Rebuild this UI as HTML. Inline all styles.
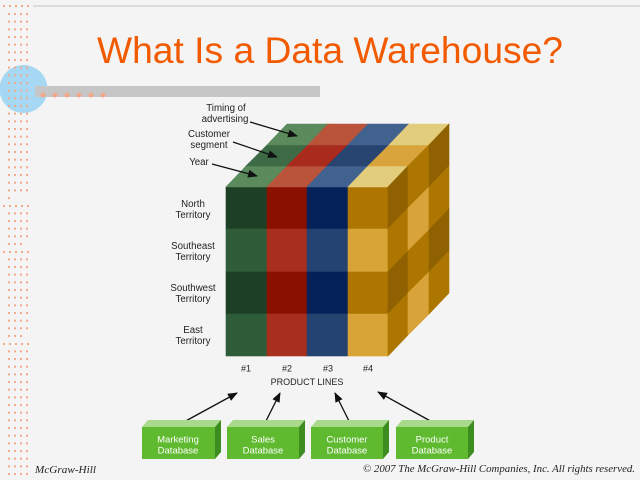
<!DOCTYPE html>
<html><head><meta charset="utf-8"><style>
html,body{margin:0;padding:0;background:#f4f4f4;}
svg{display:block;}
</style></head><body>
<svg width="640" height="480" viewBox="0 0 640 480" xmlns="http://www.w3.org/2000/svg">
<defs>
<pattern id="dots" x="8" y="13" width="6" height="7.667" patternUnits="userSpaceOnUse"><rect x="0" y="0" width="2" height="2" fill="#f2aa8a"/></pattern>
<marker id="ah" markerWidth="10" markerHeight="8" refX="9" refY="4" orient="auto" markerUnits="userSpaceOnUse"><path d="M0,0 L10,4 L0,8 Z" fill="#111"/></marker>
</defs>
<rect width="640" height="480" fill="#f4f4f4"/>
<!-- top line -->
<rect x="33" y="5.5" width="607" height="1" fill="#c4c4c4"/>
<!-- blue circle -->
<circle cx="23.5" cy="89" r="24" fill="#a6d8f4"/>
<!-- gray bar -->
<rect x="35" y="86" width="285" height="11" fill="#c6c6c6"/>
<g fill="#f0a888">
<circle cx="43" cy="95" r="2.5"/><circle cx="55" cy="95" r="2.5"/><circle cx="67" cy="95" r="2.5"/><circle cx="79" cy="95" r="2.5"/><circle cx="91" cy="95" r="2.5"/><circle cx="103" cy="95" r="2.5"/>
</g>
<!-- dot grid -->
<rect x="8" y="13" width="24" height="467" fill="url(#dots)"/>
<g fill="#f2aa8a">
<rect x="3" y="5" width="2" height="2"/><rect x="9" y="5" width="2" height="2"/><rect x="15" y="5" width="2" height="2"/><rect x="21" y="5" width="2" height="2"/><rect x="27" y="5" width="2" height="2"/>
</g>
<!-- anomalies -->
<rect x="13" y="196" width="18" height="4" fill="#f4f4f4"/>
<rect x="2" y="204" width="30" height="4" fill="#f4f4f4"/>
<rect x="25" y="243" width="6" height="4" fill="#f4f4f4"/>
<rect x="2" y="250" width="30" height="4" fill="#f4f4f4"/>
<rect x="25" y="335" width="6" height="4" fill="#f4f4f4"/>
<rect x="2" y="342" width="30" height="4" fill="#f4f4f4"/>
<g fill="#f2aa8a">
<rect x="3" y="205" width="2" height="2"/><rect x="9" y="205" width="2" height="2"/><rect x="15" y="205" width="2" height="2"/><rect x="21" y="205" width="2" height="2"/><rect x="27" y="205" width="2" height="2"/>
<rect x="3" y="251" width="2" height="2"/><rect x="9" y="251" width="2" height="2"/><rect x="15" y="251" width="2" height="2"/><rect x="21" y="251" width="2" height="2"/><rect x="27" y="251" width="2" height="2"/>
<rect x="3" y="343" width="2" height="2"/><rect x="9" y="343" width="2" height="2"/><rect x="15" y="343" width="2" height="2"/><rect x="21" y="343" width="2" height="2"/><rect x="27" y="343" width="2" height="2"/>
</g>

<!-- title -->
<text x="97" y="63" font-family="Liberation Sans, Arial, sans-serif" font-size="37" fill="#f25a00" textLength="466" lengthAdjust="spacingAndGlyphs">What Is a Data Warehouse?</text>

<!-- cube front face -->
<g stroke-width="0.6">
<rect x="226" y="187" width="41" height="42" fill="#1d3f25" stroke="#1d3f25"/>
<rect x="226" y="229" width="41" height="43" fill="#2f5c39" stroke="#2f5c39"/>
<rect x="226" y="272" width="41" height="42" fill="#1d3f25" stroke="#1d3f25"/>
<rect x="226" y="314" width="41" height="42" fill="#2f5c39" stroke="#2f5c39"/>
<rect x="267" y="187" width="40" height="42" fill="#8a1000" stroke="#8a1000"/>
<rect x="267" y="229" width="40" height="43" fill="#a82e1e" stroke="#a82e1e"/>
<rect x="267" y="272" width="40" height="42" fill="#8a1000" stroke="#8a1000"/>
<rect x="267" y="314" width="40" height="42" fill="#a82e1e" stroke="#a82e1e"/>
<rect x="307" y="187" width="41" height="42" fill="#04215a" stroke="#04215a"/>
<rect x="307" y="229" width="41" height="43" fill="#244370" stroke="#244370"/>
<rect x="307" y="272" width="41" height="42" fill="#04215a" stroke="#04215a"/>
<rect x="307" y="314" width="41" height="42" fill="#244370" stroke="#244370"/>
<rect x="348" y="187" width="40" height="42" fill="#ae7600" stroke="#ae7600"/>
<rect x="348" y="229" width="40" height="43" fill="#d8a438" stroke="#d8a438"/>
<rect x="348" y="272" width="40" height="42" fill="#ae7600" stroke="#ae7600"/>
<rect x="348" y="314" width="40" height="42" fill="#d8a438" stroke="#d8a438"/>
</g>
<!-- top face -->
<g stroke-width="0.6">
<polygon points="226,187 267,187 287,166 246,166" fill="#5b8a5c" stroke="#5b8a5c"/>
<polygon points="267,187 307,187 327,166 287,166" fill="#b9533a" stroke="#b9533a"/>
<polygon points="307,187 348,187 368,166 327,166" fill="#41618f" stroke="#41618f"/>
<polygon points="348,187 388,187 408,166 368,166" fill="#e2cd7c" stroke="#e2cd7c"/>
<polygon points="246,166 287,166 308,145 267,145" fill="#3d6b45" stroke="#3d6b45"/>
<polygon points="287,166 327,166 348,145 308,145" fill="#a82b1d" stroke="#a82b1d"/>
<polygon points="327,166 368,166 389,145 348,145" fill="#284470" stroke="#284470"/>
<polygon points="368,166 408,166 429,145 389,145" fill="#d9a43c" stroke="#d9a43c"/>
<polygon points="267,145 308,145 328,124 287,124" fill="#5b8a5c" stroke="#5b8a5c"/>
<polygon points="308,145 348,145 368,124 328,124" fill="#b9533a" stroke="#b9533a"/>
<polygon points="348,145 389,145 409,124 368,124" fill="#41618f" stroke="#41618f"/>
<polygon points="389,145 429,145 449,124 409,124" fill="#e2cd7c" stroke="#e2cd7c"/>
</g>
<!-- side face -->
<g stroke-width="0.6">
<polygon points="388,187 408,166 408,208 388,229" fill="#8f6100" stroke="#8f6100"/>
<polygon points="388,229 408,208 408,251 388,272" fill="#ad7600" stroke="#ad7600"/>
<polygon points="388,272 408,251 408,293 388,314" fill="#8f6100" stroke="#8f6100"/>
<polygon points="388,314 408,293 408,335 388,356" fill="#ad7600" stroke="#ad7600"/>
<polygon points="408,166 429,145 429,187 408,208" fill="#ad7600" stroke="#ad7600"/>
<polygon points="408,208 429,187 429,230 408,251" fill="#d8a43a" stroke="#d8a43a"/>
<polygon points="408,251 429,230 429,272 408,293" fill="#ad7600" stroke="#ad7600"/>
<polygon points="408,293 429,272 429,314 408,335" fill="#d8a43a" stroke="#d8a43a"/>
<polygon points="429,145 449,124 449,166 429,187" fill="#8f6100" stroke="#8f6100"/>
<polygon points="429,187 449,166 449,209 429,230" fill="#ad7600" stroke="#ad7600"/>
<polygon points="429,230 449,209 449,251 429,272" fill="#8f6100" stroke="#8f6100"/>
<polygon points="429,272 449,251 449,293 429,314" fill="#ad7600" stroke="#ad7600"/>
</g>

<!-- cube labels -->
<g font-family="Liberation Sans, Arial, sans-serif" font-size="9.7" fill="#222" text-anchor="middle">
<text x="226" y="111">Timing of</text>
<text x="225" y="122">advertising</text>
<text x="209" y="137">Customer</text>
<text x="209" y="148">segment</text>
<text x="199" y="165">Year</text>
<text x="193" y="207">North</text>
<text x="193" y="218">Territory</text>
<text x="193" y="249">Southeast</text>
<text x="193" y="260">Territory</text>
<text x="193" y="291">Southwest</text>
<text x="193" y="302">Territory</text>
<text x="193" y="333">East</text>
<text x="193" y="344">Territory</text>
</g>
<g font-family="Liberation Sans, Arial, sans-serif" font-size="9" fill="#222" text-anchor="middle">
<text x="246" y="371.5">#1</text>
<text x="287" y="371.5">#2</text>
<text x="328" y="371.5">#3</text>
<text x="368" y="371.5">#4</text>
<text x="307" y="385">PRODUCT LINES</text>
</g>
<g stroke="#111" stroke-width="1.3" marker-end="url(#ah)">
<line x1="250" y1="122" x2="297" y2="136"/>
<line x1="233" y1="142" x2="277" y2="157"/>
<line x1="212" y1="164" x2="257" y2="176"/>
<line x1="182" y1="423" x2="237" y2="393"/>
<line x1="265" y1="423" x2="280" y2="393"/>
<line x1="350" y1="423" x2="335" y2="393"/>
<line x1="434" y1="423" x2="378" y2="392"/>
</g>

<!-- database boxes -->
<g>
<polygon points="142,427 148,420 221,420 215,427" fill="#a9d98a"/>
<polygon points="215,427 221,420 221,452 215,459" fill="#3d8c1f"/>
<rect x="142" y="427" width="73" height="32" fill="#5fba30"/>
<polygon points="227,427 233,420 305,420 299,427" fill="#a9d98a"/>
<polygon points="299,427 305,420 305,452 299,459" fill="#3d8c1f"/>
<rect x="227" y="427" width="72" height="32" fill="#5fba30"/>
<polygon points="311,427 317,420 389,420 383,427" fill="#a9d98a"/>
<polygon points="383,427 389,420 389,452 383,459" fill="#3d8c1f"/>
<rect x="311" y="427" width="72" height="32" fill="#5fba30"/>
<polygon points="396,427 402,420 474,420 468,427" fill="#a9d98a"/>
<polygon points="468,427 474,420 474,452 468,459" fill="#3d8c1f"/>
<rect x="396" y="427" width="72" height="32" fill="#5fba30"/>
</g>
<g font-family="Liberation Sans, Arial, sans-serif" font-size="9.5" fill="#fff" text-anchor="middle">
<text x="178" y="442.5">Marketing</text>
<text x="178" y="453.5">Database</text>
<text x="263" y="442.5">Sales</text>
<text x="263" y="453.5">Database</text>
<text x="347" y="442.5">Customer</text>
<text x="347" y="453.5">Database</text>
<text x="432" y="442.5">Product</text>
<text x="432" y="453.5">Database</text>
</g>

<!-- footer -->
<text x="35" y="473" font-family="Liberation Serif, serif" font-style="italic" font-size="10" fill="#222" textLength="61" lengthAdjust="spacingAndGlyphs">McGraw-Hill</text>
<text x="363" y="472" font-family="Liberation Serif, serif" font-style="italic" font-size="10" fill="#222" textLength="272" lengthAdjust="spacingAndGlyphs">© 2007 The McGraw-Hill Companies, Inc. All rights reserved.</text>
</svg>
</body></html>
